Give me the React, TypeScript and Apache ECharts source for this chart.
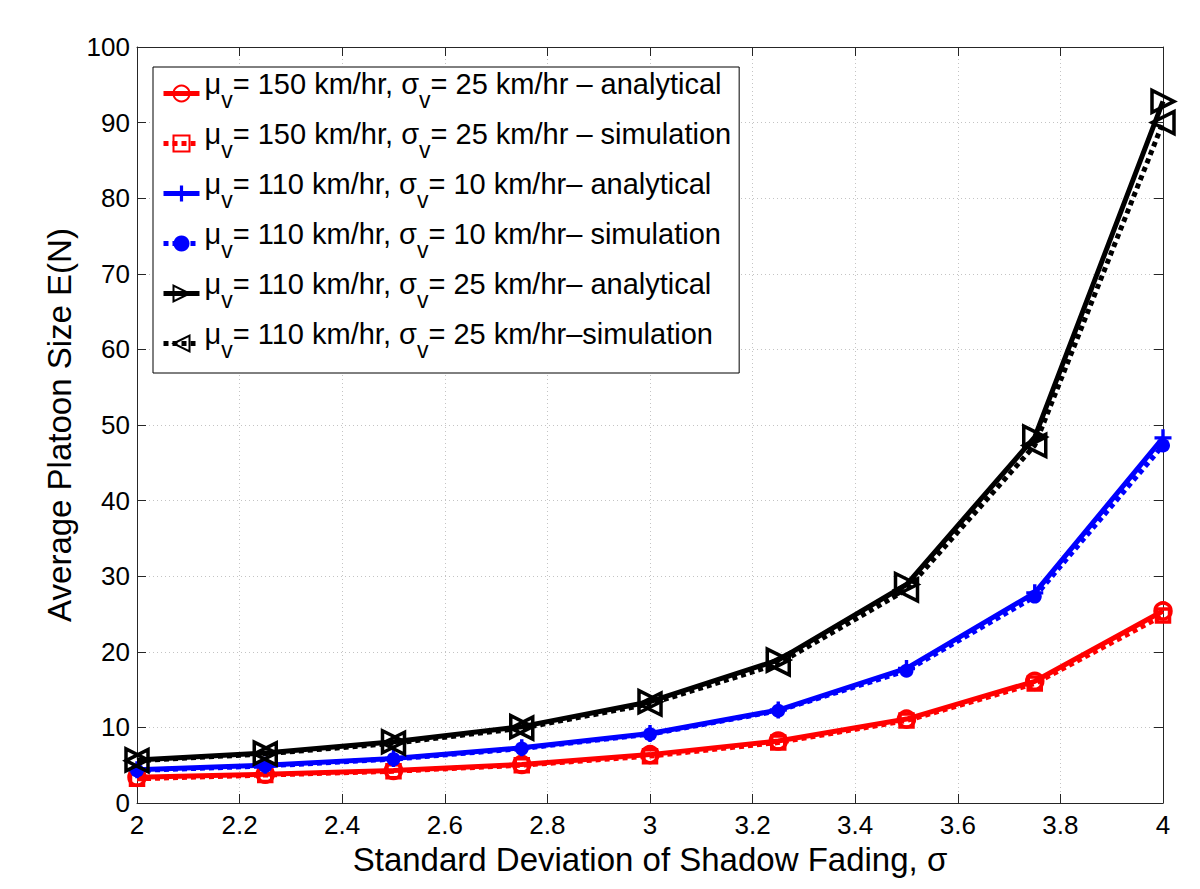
import React, { useEffect, useRef } from "react";
import * as echarts from "echarts";

const sigmaValues = [2, 2.25, 2.5, 2.75, 3, 3.25, 3.5, 3.75, 4];
const red150Analytical = [3.4, 3.8, 4.3, 5.1, 6.4, 8.2, 11.1, 16.1, 25.4];
const red150Simulation = [3.2, 3.7, 4.2, 5.0, 6.2, 8.0, 10.9, 15.8, 24.8];
const blue110s10Analytical = [4.4, 5.0, 5.9, 7.3, 9.2, 12.3, 17.8, 27.8, 48.3];
const blue110s10Simulation = [4.3, 4.9, 5.8, 7.2, 9.1, 12.2, 17.5, 27.3, 47.3];
const black110s25Analytical = [5.7, 6.6, 8.1, 10.1, 13.4, 18.9, 28.9, 48.4, 92.8];
const black110s25Simulation = [5.6, 6.5, 7.9, 9.9, 13.1, 18.4, 28.2, 47.3, 90.0];

// legend label parts: [text after μ_v, text after σ_v]
const legendParts: [string, string][] = [
  ["= 150 km/hr, σ", "= 25 km/hr – analytical"],
  ["= 150 km/hr, σ", "= 25 km/hr – simulation"],
  ["= 110 km/hr, σ", "= 10 km/hr– analytical"],
  ["= 110 km/hr, σ", "= 10 km/hr– simulation"],
  ["= 110 km/hr, σ", "= 25 km/hr– analytical"],
  ["= 110 km/hr, σ", "= 25 km/hr–simulation"],
];
const seriesNames = legendParts.map((p) => "μv" + p[0] + "v" + p[1]);

const xTitle = "Standard Deviation of Shadow Fading, σ";
const yTitle = "Average Platoon Size E(N)";

const FONT = "Liberation Sans";
const CLEAR = "rgba(255,255,255,0)";

export default function App() {
  const ref = useRef<HTMLDivElement>(null);
  useEffect(() => {
    document.body.style.margin = "0";
    if (!ref.current) return;
    const chart = echarts.init(ref.current, null, { renderer: "svg" });
    const pts = (arr: number[]) => sigmaValues.map((x, i) => [x, arr[i]]);
    const plus = "path://M4,0h2v4h4v2h-4v4h-2v-4h-4v-2h4z";
    const mk = (
      idx: number,
      data: number[],
      color: string,
      dashed: boolean,
      symbol: string,
      size: number,
      hollow: boolean,
      rotate = 0
    ) => ({
      type: "line",
      name: seriesNames[idx],
      data: pts(data),
      xAxisIndex: 0,
      yAxisIndex: 0,
      symbol,
      symbolSize: size,
      symbolRotate: rotate,
      showAllSymbol: true,
      lineStyle: {
        color,
        width: 5,
        type: dashed ? [5, 4] : "solid",
        cap: "butt",
      },
      itemStyle: hollow
        ? { color: CLEAR, borderColor: color, borderWidth: 3.5 }
        : { color, borderWidth: 0 },
      z: 2 + idx,
    });
    const option: any = {
      animation: false,
      backgroundColor: "#fff",
      textStyle: { fontFamily: FONT },
      grid: { left: 137, right: 37, top: 47, bottom: 86 },
      legend: {
        orient: "vertical",
        left: 153,
        top: 67,
        itemWidth: 36,
        itemHeight: 20,
        itemGap: 1,
        padding: [2, 8, 5, 8],
        borderColor: "#000",
        borderWidth: 1,
        backgroundColor: "#fff",
        selectedMode: false,
        data: seriesNames,
        lineStyle: { width: 5 },
        formatter: (name: string) => {
          const i = seriesNames.indexOf(name);
          const p = legendParts[i];
          return "{m|μ}{s|v}{m|" + p[0] + "}{s|v}{m|" + p[1] + "}";
        },
        textStyle: {
          color: "#000",
          fontFamily: FONT,
          rich: {
            m: {
              fontSize: 29,
              lineHeight: 29,
              fontFamily: FONT,
              color: "#000",
              padding: [0, 0, 20, 0],
            },
            s: {
              fontSize: 23,
              lineHeight: 23,
              fontFamily: FONT,
              color: "#000",
              padding: [12, 0, 0, 0],
            },
          },
        },
      },
      xAxis: [
        {
          type: "value",
          min: 2,
          max: 4,
          interval: 0.2,
          name: xTitle,
          nameLocation: "middle",
          nameGap: 28,
          nameTextStyle: { fontSize: 33, color: "#000", fontFamily: FONT },
          axisLine: { show: true, onZero: false, lineStyle: { color: "#262626", width: 1 } },
          axisTick: { show: true, inside: true, length: 9, lineStyle: { color: "#262626" } },
          axisLabel: {
            fontSize: 26,
            color: "#000",
            margin: 9,
            fontFamily: FONT,
            formatter: (v: number) => String(+v.toFixed(1)),
          },
          splitLine: { show: true, lineStyle: { color: "#c4c4c4", type: [1, 3], width: 1 } },
        },
        {
          type: "value",
          position: "top",
          min: 2,
          max: 4,
          interval: 0.2,
          axisLine: { show: true, onZero: false, lineStyle: { color: "#262626", width: 1 } },
          axisTick: { show: true, inside: true, length: 9, lineStyle: { color: "#262626" } },
          axisLabel: { show: false },
          splitLine: { show: false },
        },
      ],
      yAxis: [
        {
          type: "value",
          min: 0,
          max: 100,
          interval: 10,
          name: yTitle,
          nameLocation: "middle",
          nameGap: 58,
          nameRotate: 90,
          nameTextStyle: { fontSize: 33, color: "#000", fontFamily: FONT },
          axisLine: { show: true, onZero: false, lineStyle: { color: "#262626", width: 1 } },
          axisTick: { show: true, inside: true, length: 9, lineStyle: { color: "#262626" } },
          axisLabel: { fontSize: 26, color: "#000", margin: 7, fontFamily: FONT },
          splitLine: { show: true, lineStyle: { color: "#c4c4c4", type: [1, 3], width: 1 } },
        },
        {
          type: "value",
          position: "right",
          min: 0,
          max: 100,
          interval: 10,
          axisLine: { show: true, onZero: false, lineStyle: { color: "#262626", width: 1 } },
          axisTick: { show: true, inside: true, length: 9, lineStyle: { color: "#262626" } },
          axisLabel: { show: false },
          splitLine: { show: false },
        },
      ],
      series: [
        mk(0, red150Analytical, "#ff0000", false, "circle", 16, true),
        mk(1, red150Simulation, "#ff0000", true, "rect", 13, true),
        mk(2, blue110s10Analytical, "#0000ff", false, plus, 17, false),
        mk(3, blue110s10Simulation, "#0000ff", true, "circle", 14, false),
        mk(4, black110s25Analytical, "#000000", false, "triangle", 22, true, -90),
        mk(5, black110s25Simulation, "#000000", true, "triangle", 22, true, 90),
      ],
    };
    chart.setOption(option);
    return () => chart.dispose();
  }, []);
  return <div ref={ref} style={{ width: 1200, height: 889 }} />;
}
